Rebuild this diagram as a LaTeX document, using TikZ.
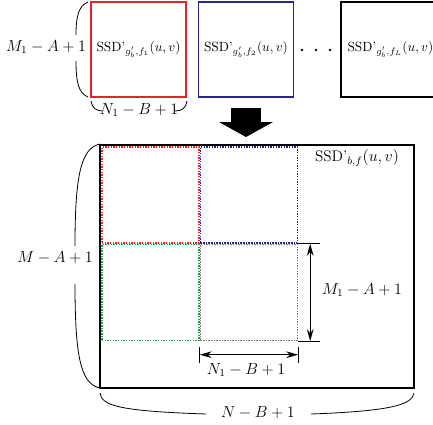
\documentclass[tikz,border=0pt]{standalone}
\usepackage{amsmath}
\usepackage{tikz}
\usetikzlibrary{arrows.meta,positioning}
\definecolor{rougeBox}{RGB}{230,35,45}
\definecolor{bleuBox}{RGB}{40,40,140}
\definecolor{vertBox}{RGB}{20,160,80}
\definecolor{grisBox}{RGB}{135,125,115}
\newcommand{\px}{0.75pt}

\begin{document}
\begin{tikzpicture}[x=\px,y=-\px,font=\fontsize{11.5}{14}\selectfont,
  ssdbox/.style={draw,line width=1.1pt,minimum width=95*\px,minimum height=95*\px,inner sep=0pt,
                 font=\fontsize{10}{12}\selectfont},
  cellbox/.style={line width=1.1pt,dash pattern=on 1.1pt off 0.9pt,
                  minimum width=97*\px,minimum height=96*\px,inner sep=0pt},
  brace/.style={line width=0.6pt},
  dimarrow/.style={line width=0.9pt,{Stealth[length=9pt,width=5pt]}-{Stealth[length=9pt,width=5pt]}}]
  \useasboundingbox (0,0) rectangle (433,425);
  \clip (0,0) rectangle (433,425);

  % Cartes SSD du haut
  \node[ssdbox,draw=rougeBox] (f1) at (138.5,49.5) {SSD'$_{g'_b,f_1}(u,v)$};
  \node[ssdbox,draw=bleuBox,right=8.25pt of f1] (f2) {SSD'$_{g'_b,f_2}(u,v)$};
  \node[ssdbox,draw=black,minimum width=105*\px,right=34.5pt of f2,
        label={[anchor=west,xshift=2pt,font=\fontsize{10}{12}\selectfont]west:SSD'$_{g'_b,f_L}(u,v)$}]
    (fL) {};
  \foreach \x in {302,316,330}
    \fill (\x,50) circle (1.4);

  % Accolades du haut
  \node (m1top) at (46,47) {$M_1-A+1$};
  \draw[brace] (88,2) .. controls (79,6) and (76,15) .. (76,35);
  \draw[brace] (76,61) .. controls (76,84) and (79,93) .. (88,97);
  \node (n1top) at (139,110) {$N_1-B+1$};
  \draw[brace] (91,101) .. controls (92,108) and (96,111) .. (103,111);
  \draw[brace] (175,111) .. controls (182,111) and (186,108) .. (187,101);

  % Fleche
  \fill (231,108) rectangle (261,122);
  \fill (219,122) -- (273,122) -- (246,137) -- cycle;

  % Grande carte
  \node[draw,line width=1.3pt,minimum width=314*\px,minimum height=243*\px,inner sep=0pt]
    (big) at (257,266.5) {};
  \node[cellbox,draw=rougeBox] (c11) at (150.5,195) {};
  \node[cellbox,draw=bleuBox,right=0pt of c11] (c12) {};
  \node[cellbox,draw=vertBox,below=0pt of c11] (c21) {};
  \node[cellbox,draw=grisBox,right=0pt of c21] (c22) {};
  \node (ssdbf) at (357,158) {SSD'$_{b,f}(u,v)$};

  % Cotes
  \draw[line width=0.8pt] (c22.north east) -- ++(22,0);
  \draw[line width=0.8pt] (c22.south east) -- ++(22,0);
  \draw[dimarrow] ([xshift=12*\px]c22.north east) -- ([xshift=12*\px]c22.south east);
  \node (m1dim) at (362,290) {$M_1-A+1$};
  \draw[line width=0.8pt] ([yshift=-6*\px]c22.south west) -- ++(0,16);
  \draw[line width=0.8pt] ([yshift=-6*\px]c22.south east) -- ++(0,16);
  \draw[dimarrow] ([yshift=-13.5*\px]c22.south west) -- ([yshift=-13.5*\px]c22.south east);
  \node (n1dim) at (246,370) {$N_1-B+1$};

  % Accolades de la grande carte
  \node (mbig) at (55,258) {$M-A+1$};
  \draw[brace] (100,144) .. controls (81,148) and (75,175) .. (75,246);
  \draw[brace] (75,284) .. controls (75,358) and (81,384) .. (100,388);
  \node (nbig) at (258,413) {$N-B+1$};
  \draw[brace] (100,393) .. controls (102,405) and (115,411) .. (206,414);
  \draw[brace] (311,414) .. controls (395,411) and (412,404) .. (414,393);
\end{tikzpicture}
\end{document}
